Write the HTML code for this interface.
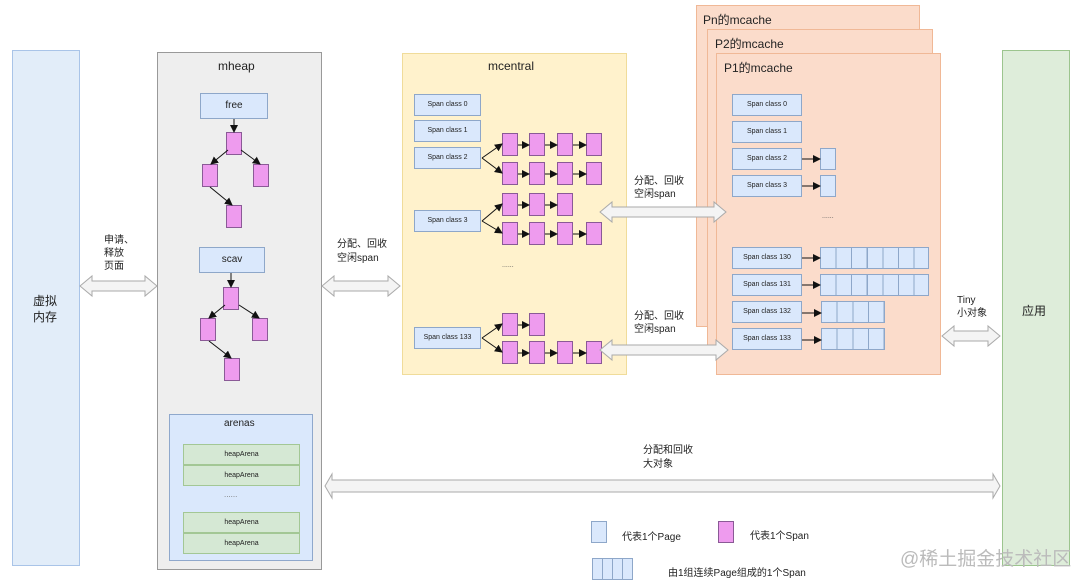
<!DOCTYPE html>
<html><head><meta charset="utf-8"><style>
body{margin:0;width:1080px;height:586px;background:#fff;position:relative;overflow:hidden;font-family:"Liberation Sans","Noto Sans CJK SC",sans-serif;color:#222}
.a{position:absolute;box-sizing:border-box}
.t{position:absolute;white-space:nowrap}
.sc{position:absolute;box-sizing:border-box;background:#dae8fc;border:1px solid #8ea7c9;font-size:7px;text-align:center;line-height:20px;height:22px}
.sp{position:absolute;box-sizing:border-box;background:#ee9bee;border:1px solid #8a5a96;width:16px;height:23px}
.pg{position:absolute;box-sizing:border-box;background:#dae8fc;border:1px solid #8ea7c9;width:16px;height:22px}
.ha{position:absolute;box-sizing:border-box;background:#d5e8d4;border:1px solid #a3c795;font-size:7px;text-align:center;line-height:20px;left:183px;width:117px;height:21px}
</style></head><body>
<div class="a" style="left:12px;top:50px;width:68px;height:516px;background:#e2edf9;border:1px solid #a9c4e8"></div>
<div class="t" style="left:33px;top:293px;font-size:12px;line-height:16px">虚拟<br>内存</div>
<div class="t" style="left:104px;top:234px;font-size:10px;line-height:13px">申请、<br>释放<br>页面</div>

<div class="a" style="left:157px;top:52px;width:165px;height:518px;background:#eeeeee;border:1px solid #999"></div>
<div class="t" style="left:218px;top:59px;font-size:12px">mheap</div>
<div class="sc" style="left:200px;top:93px;width:68px;height:26px;line-height:24px;font-size:10px">free</div>
<div class="sp" style="left:226px;top:132px"></div>
<div class="sp" style="left:202px;top:164px"></div>
<div class="sp" style="left:253px;top:164px"></div>
<div class="sp" style="left:226px;top:205px"></div>
<div class="sc" style="left:199px;top:247px;width:66px;height:26px;line-height:24px;font-size:10px">scav</div>
<div class="sp" style="left:223px;top:287px"></div>
<div class="sp" style="left:200px;top:318px"></div>
<div class="sp" style="left:252px;top:318px"></div>
<div class="sp" style="left:224px;top:358px"></div>
<div class="a" style="left:169px;top:414px;width:144px;height:147px;background:#dae8fc;border:1px solid #8fa8cc"></div>
<div class="t" style="left:224px;top:418px;font-size:10px">arenas</div>
<div class="ha" style="top:444px">heapArena</div>
<div class="ha" style="top:465px">heapArena</div>
<div class="t" style="left:224px;top:490px;font-size:8px;color:#777">......</div>
<div class="ha" style="top:512px">heapArena</div>
<div class="ha" style="top:533px">heapArena</div>

<div class="t" style="left:337px;top:238px;font-size:10px;line-height:14px">分配、回收<br>空闲span</div>

<div class="a" style="left:402px;top:53px;width:225px;height:322px;background:#fff2cc;border:1px solid #f0dc9a"></div>
<div class="t" style="left:488px;top:59px;font-size:12px">mcentral</div>
<div class="sc" style="left:414px;top:94px;width:67px">Span class 0</div>
<div class="sc" style="left:414px;top:120px;width:67px">Span class 1</div>
<div class="sc" style="left:414px;top:147px;width:67px">Span class 2</div>
<div class="sc" style="left:414px;top:210px;width:67px">Span class 3</div>
<div class="sc" style="left:414px;top:327px;width:67px">Span class 133</div>
<div class="sp" style="left:502px;top:133px"></div><div class="sp" style="left:529px;top:133px"></div><div class="sp" style="left:557px;top:133px"></div><div class="sp" style="left:586px;top:133px"></div>
<div class="sp" style="left:502px;top:162px"></div><div class="sp" style="left:529px;top:162px"></div><div class="sp" style="left:557px;top:162px"></div><div class="sp" style="left:586px;top:162px"></div>
<div class="sp" style="left:502px;top:193px"></div><div class="sp" style="left:529px;top:193px"></div><div class="sp" style="left:557px;top:193px"></div>
<div class="sp" style="left:502px;top:222px"></div><div class="sp" style="left:529px;top:222px"></div><div class="sp" style="left:557px;top:222px"></div><div class="sp" style="left:586px;top:222px"></div>
<div class="sp" style="left:502px;top:313px"></div><div class="sp" style="left:529px;top:313px"></div>
<div class="sp" style="left:502px;top:341px"></div><div class="sp" style="left:529px;top:341px"></div><div class="sp" style="left:557px;top:341px"></div><div class="sp" style="left:586px;top:341px"></div>
<div class="t" style="left:502px;top:262px;font-size:7px;color:#555">......</div>

<div class="a" style="left:696px;top:5px;width:224px;height:322px;background:#fbdccb;border:1px solid #f0b896"></div>
<div class="t" style="left:703px;top:11px;font-size:12px">Pn的mcache</div>
<div class="a" style="left:707px;top:29px;width:226px;height:320px;background:#fbdccb;border:1px solid #f0b896"></div>
<div class="t" style="left:715px;top:35px;font-size:12px">P2的mcache</div>
<div class="a" style="left:716px;top:53px;width:225px;height:322px;background:#fbdccb;border:1px solid #f0b896"></div>
<div class="t" style="left:724px;top:59px;font-size:12px">P1的mcache</div>
<div class="sc" style="left:732px;top:94px;width:70px">Span class 0</div>
<div class="sc" style="left:732px;top:121px;width:70px">Span class 1</div>
<div class="sc" style="left:732px;top:148px;width:70px">Span class 2</div>
<div class="sc" style="left:732px;top:175px;width:70px">Span class 3</div>
<div class="sc" style="left:732px;top:247px;width:70px">Span class 130</div>
<div class="sc" style="left:732px;top:274px;width:70px">Span class 131</div>
<div class="sc" style="left:732px;top:301px;width:70px">Span class 132</div>
<div class="sc" style="left:732px;top:328px;width:70px">Span class 133</div>
<div class="pg" style="left:820px;top:148px"></div>
<div class="pg" style="left:820px;top:175px"></div>
<div class="t" style="left:822px;top:213px;font-size:7px;color:#555">......</div>
<div class="pg" style="left:820px;top:247px;width:109px;background:repeating-linear-gradient(90deg,#dae8fc 0 14.5px,#8ea7c9 14.5px 15.6px)"></div>
<div class="pg" style="left:820px;top:274px;width:109px;background:repeating-linear-gradient(90deg,#dae8fc 0 14.5px,#8ea7c9 14.5px 15.6px)"></div>
<div class="pg" style="left:821px;top:301px;width:64px;background:repeating-linear-gradient(90deg,#dae8fc 0 14.6px,#8ea7c9 14.6px 15.7px)"></div>
<div class="pg" style="left:821px;top:328px;width:64px;background:repeating-linear-gradient(90deg,#dae8fc 0 14.6px,#8ea7c9 14.6px 15.7px)"></div>

<div class="t" style="left:634px;top:175px;font-size:10px;line-height:13px">分配、回收<br>空闲span</div>
<div class="t" style="left:634px;top:310px;font-size:10px;line-height:13px">分配、回收<br>空闲span</div>
<div class="t" style="left:957px;top:294px;font-size:10px;line-height:13px">Tiny<br>小对象</div>

<div class="a" style="left:1002px;top:50px;width:68px;height:516px;background:#deedda;border:1px solid #9cc58e"></div>
<div class="t" style="left:1022px;top:302px;font-size:12px">应用</div>

<div class="t" style="left:643px;top:444px;font-size:10px;line-height:14px">分配和回收<br>大对象</div>

<div class="pg" style="left:591px;top:521px"></div>
<div class="t" style="left:622px;top:528px;font-size:10px">代表1个Page</div>
<div class="sp" style="left:718px;top:521px;height:22px"></div>
<div class="t" style="left:750px;top:527px;font-size:10px">代表1个Span</div>
<div class="pg" style="left:592px;top:558px;width:41px;background:repeating-linear-gradient(90deg,#dae8fc 0 9px,#8ea7c9 9px 10px)"></div>
<div class="t" style="left:668px;top:564px;font-size:10px">由1组连续Page组成的1个Span</div>
<div class="t" style="left:900px;top:544px;font-size:19px;color:#bbb">@稀土掘金技术社区</div>

<svg class="a" style="left:0;top:0" width="1080" height="586">
<defs><marker id="m" markerWidth="8" markerHeight="8" refX="7" refY="4" orient="auto" markerUnits="userSpaceOnUse"><path d="M0,0L8,4L0,8z" fill="#111"/></marker></defs>
<g fill="#f4f4f4" stroke="#aaa" stroke-width="1">
<polygon points="80,286 92,276 92,281 145,281 145,276 157,286 145,296 145,291 92,291 92,296"/>
<polygon points="322,286 334,276 334,281 388,281 388,276 400,286 388,296 388,291 334,291 334,296"/>
<polygon points="600,212 612,202 612,207 714,207 714,202 726,212 714,222 714,217 612,217 612,222"/>
<polygon points="600,350 612,340 612,345 716,345 716,340 728,350 716,360 716,355 612,355 612,360"/>
<polygon points="942,336 954,326 954,331 988,331 988,326 1000,336 988,346 988,341 954,341 954,346"/>
<polygon points="325,486 332,474 332,480 993,480 993,474 1000,486 993,498 993,492 332,492 332,498"/>
</g>
<g stroke="#111" stroke-width="1" fill="none" marker-end="url(#m)">
<line x1="234" y1="119" x2="234" y2="132"/>
<line x1="228" y1="150" x2="211" y2="164"/>
<line x1="241" y1="150" x2="260" y2="164"/>
<line x1="210" y1="187" x2="232" y2="205"/>
<line x1="231" y1="273" x2="231" y2="287"/>
<line x1="225" y1="305" x2="209" y2="318"/>
<line x1="239" y1="305" x2="259" y2="318"/>
<line x1="209" y1="341" x2="231" y2="358"/>
<line x1="482" y1="158" x2="502" y2="144"/><line x1="482" y1="158" x2="502" y2="173"/>
<line x1="482" y1="221" x2="502" y2="204"/><line x1="482" y1="221" x2="502" y2="233"/>
<line x1="482" y1="338" x2="502" y2="324"/><line x1="482" y1="338" x2="502" y2="352"/>
<line x1="518" y1="145" x2="529" y2="145"/><line x1="545" y1="145" x2="557" y2="145"/><line x1="573" y1="145" x2="586" y2="145"/>
<line x1="518" y1="174" x2="529" y2="174"/><line x1="545" y1="174" x2="557" y2="174"/><line x1="573" y1="174" x2="586" y2="174"/>
<line x1="518" y1="205" x2="529" y2="205"/><line x1="545" y1="205" x2="557" y2="205"/>
<line x1="518" y1="234" x2="529" y2="234"/><line x1="545" y1="234" x2="557" y2="234"/><line x1="573" y1="234" x2="586" y2="234"/>
<line x1="518" y1="325" x2="529" y2="325"/>
<line x1="518" y1="353" x2="529" y2="353"/><line x1="545" y1="353" x2="557" y2="353"/><line x1="573" y1="353" x2="586" y2="353"/>
<line x1="802" y1="159" x2="820" y2="159"/>
<line x1="802" y1="186" x2="820" y2="186"/>
<line x1="802" y1="258" x2="820" y2="258"/>
<line x1="802" y1="285" x2="820" y2="285"/>
<line x1="802" y1="313" x2="821" y2="313"/>
<line x1="802" y1="340" x2="821" y2="340"/>
</g>
</svg>
</body></html>
